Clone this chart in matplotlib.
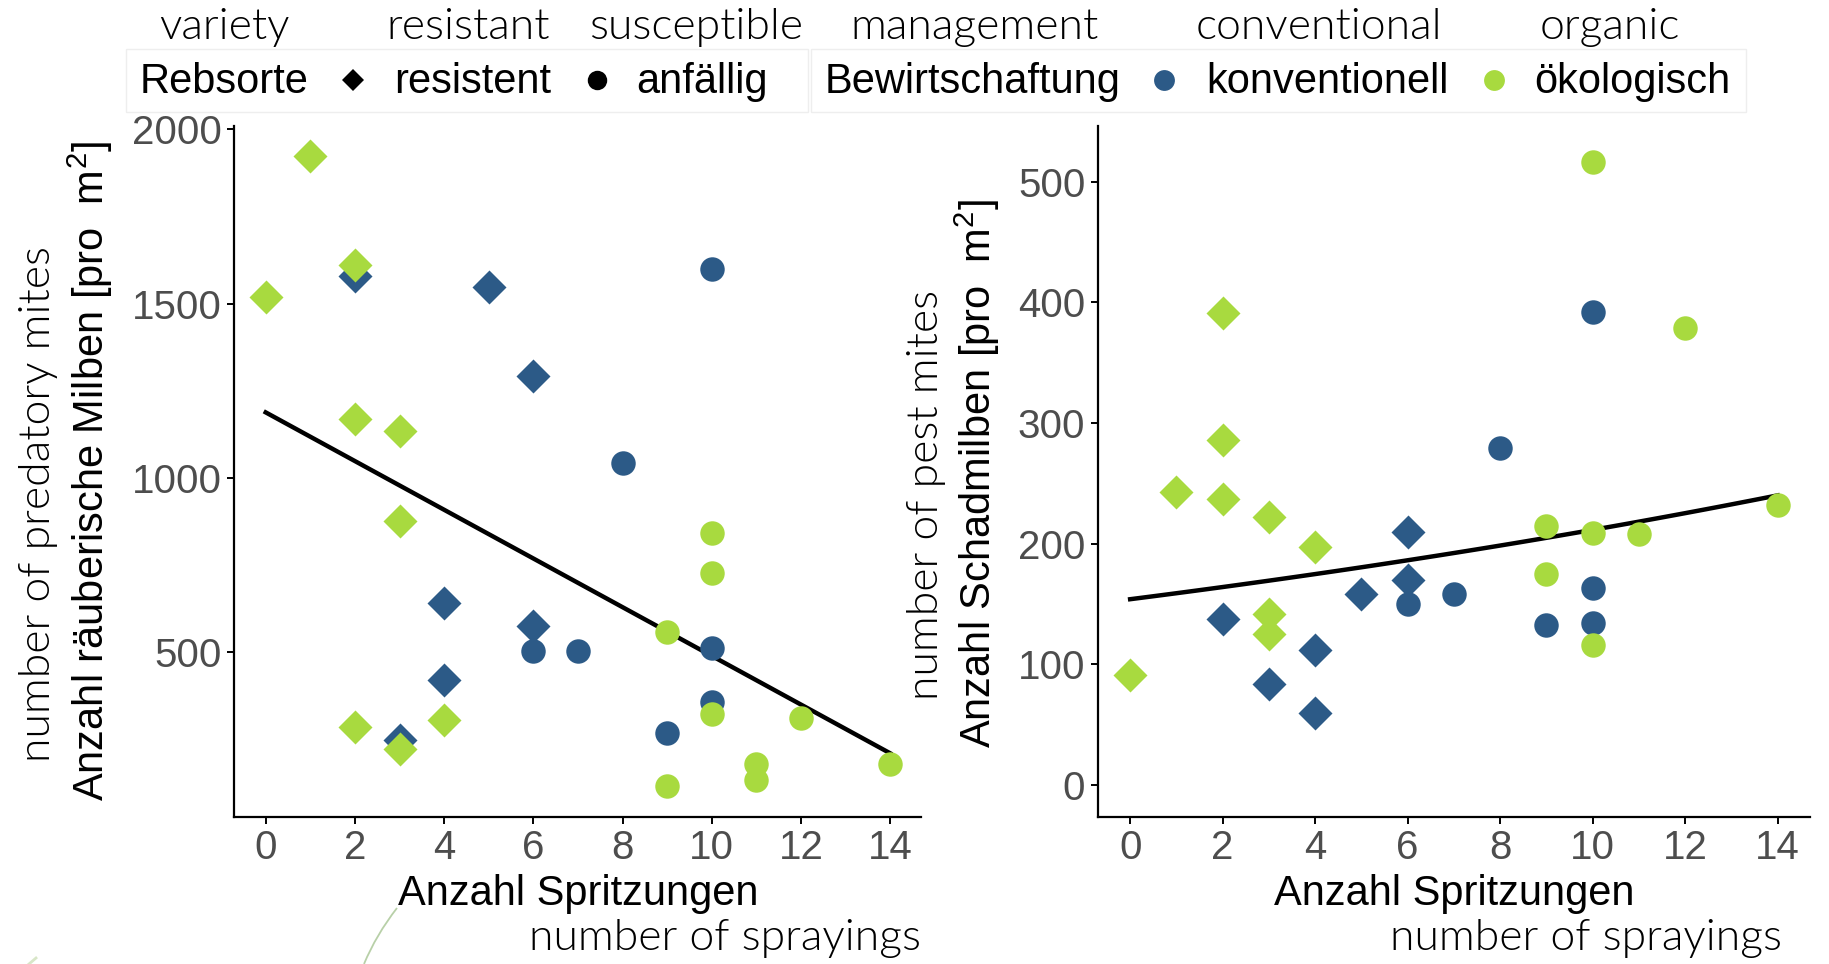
import numpy as np
import matplotlib
matplotlib.use("Agg")
import matplotlib.pyplot as plt
from matplotlib.lines import Line2D
from matplotlib.patches import Rectangle
from matplotlib.path import Path
from matplotlib.patches import PathPatch

plt.rcParams['font.family'] = ['Liberation Sans', 'DejaVu Sans']
plt.rcParams['mathtext.fontset'] = 'custom'
plt.rcParams['mathtext.rm'] = 'Liberation Sans'

BLUE = '#2C5A87'
GREEN = '#A8DA3F'
THIN = ['Lato', 'DejaVu Sans']
THIN_W = 300
THIN_SIZE = 32

# predatory mites (left panel)
pred_org_res_x = [0, 1, 2, 2, 3, 3, 2, 3, 4]
pred_org_res_y = [1520, 1925, 1610, 1170, 1135, 876, 286, 222, 306]
pred_con_res_x = [2, 5, 6, 4, 6, 4, 3]
pred_con_res_y = [1580, 1547, 1291, 641, 574, 420, 249]
pred_con_sus_x = [10, 8, 6, 7, 10, 10, 9]
pred_con_sus_y = [1600, 1044, 503, 503, 513, 356, 269]
pred_org_sus_x = [10, 10, 9, 10, 12, 11, 11, 9, 14]
pred_org_sus_y = [843, 728, 557, 322, 312, 178, 134, 117, 178]
pred_fit = (1188, -69.9)          # linear trend: intercept, slope

# pest mites (right panel)
pest_org_res_x = [0, 1, 2, 2, 2, 3, 3, 3, 4]
pest_org_res_y = [91, 243, 391, 286, 237, 222, 142, 125, 197]
pest_con_res_x = [2, 3, 4, 4, 5, 6, 6]
pest_con_res_y = [138, 84, 112, 60, 158, 210, 170]
pest_con_sus_x = [6, 7, 8, 9, 10, 10, 10]
pest_con_sus_y = [150, 158, 279, 133, 392, 163, 134]
pest_org_sus_x = [9, 9, 10, 10, 10, 11, 12, 14]
pest_org_sus_y = [215, 175, 516, 209, 116, 208, 379, 232]
pest_fit = (154, 0.0317)          # log-link trend: exp(a), b

x_ticks = [0, 2, 4, 6, 8, 10, 12, 14]
pred_yticks = [500, 1000, 1500, 2000]
pest_yticks = [0, 100, 200, 300, 400, 500]

fig = plt.figure(figsize=(18.29, 9.64), dpi=100, facecolor='white')
ax1 = fig.add_axes([0.1282, 0.153, 0.3756, 0.7163])
ax2 = fig.add_axes([0.6002, 0.153, 0.3894, 0.7163])

DS = 300   # diamond size
CS = 310   # circle size


def panel(ax, data, fit, yticks, ylim, kind):
    (orx, ory), (crx, cry), (csx, csy), (osx, osy) = data
    xs = np.linspace(0, 14, 100)
    if kind == 'lin':
        ax.plot(xs, fit[0] + fit[1] * xs, color='black', lw=3.2, zorder=2)
    else:
        ax.plot(xs, fit[0] * np.exp(fit[1] * xs), color='black', lw=3.2, zorder=2)
    ax.scatter(crx, cry, marker='D', s=DS, color=BLUE, linewidths=0, zorder=3)
    ax.scatter(orx, ory, marker='D', s=DS, color=GREEN, linewidths=0, zorder=3)
    ax.scatter(csx, csy, marker='o', s=CS, color=BLUE, linewidths=0, zorder=3)
    ax.scatter(osx, osy, marker='o', s=CS, color=GREEN, linewidths=0, zorder=3)
    ax.set_xlim(-0.7, 14.7)
    ax.set_ylim(*ylim)
    ax.set_xticks(x_ticks)
    ax.set_yticks(yticks)
    for s in ['top', 'right']:
        ax.spines[s].set_visible(False)
    for s in ['left', 'bottom']:
        ax.spines[s].set_linewidth(1.6)
    ax.tick_params(labelsize=29, labelcolor='#4D4D4D', length=5, width=1.4,
                   pad=4)


panel(ax1, [(pred_org_res_x, pred_org_res_y), (pred_con_res_x, pred_con_res_y),
            (pred_con_sus_x, pred_con_sus_y), (pred_org_sus_x, pred_org_sus_y)],
      pred_fit, pred_yticks, (28, 2010), 'lin')
panel(ax2, [(pest_org_res_x, pest_org_res_y), (pest_con_res_x, pest_con_res_y),
            (pest_con_sus_x, pest_con_sus_y), (pest_org_sus_x, pest_org_sus_y)],
      pest_fit, pest_yticks, (-26, 546), 'exp')

# axis titles
fig.text(0.0492, 0.5114, 'Anzahl räuberische Milben [pro  m$^2$]', rotation=90,
         ha='center', va='center', fontsize=30)
fig.text(0.021, 0.477, 'number of predatory mites', rotation=90, ha='center',
         va='center', fontsize=THIN_SIZE, family=THIN, fontweight=THIN_W)
fig.text(0.5344, 0.5087, 'Anzahl Schadmilben [pro  m$^2$]', rotation=90,
         ha='center', va='center', fontsize=30)
fig.text(0.5068, 0.4868, 'number of pest mites', rotation=90, ha='center',
         va='center', fontsize=THIN_SIZE, family=THIN, fontweight=THIN_W)
for xc, xr in [(0.3163, 0.5038), (0.7953, 0.9745)]:
    fig.text(xc, 0.0731, 'Anzahl Spritzungen', ha='center', va='center',
             fontsize=30)
    fig.text(xr, 0.026, 'number of sprayings', ha='right', va='center',
             fontsize=THIN_SIZE, family=THIN, fontweight=THIN_W)

# legend boxes
fig.add_artist(Rectangle((126 / 1829, 1 - 112 / 964), 682 / 1829, 63 / 964,
                         transform=fig.transFigure, fill=False,
                         edgecolor='#EEEEEE', lw=1))
fig.add_artist(Rectangle((811 / 1829, 1 - 112 / 964), 935 / 1829, 63 / 964,
                         transform=fig.transFigure, fill=False,
                         edgecolor='#EEEEEE', lw=1))

ROW = 0.915
fig.text(0.0765, ROW, 'Rebsorte', ha='left', va='center', fontsize=30)
fig.text(0.2156, ROW, 'resistent', ha='left', va='center', fontsize=30)
fig.text(0.348, ROW, 'anfällig', ha='left', va='center', fontsize=30)
fig.text(0.451, ROW, 'Bewirtschaftung', ha='left', va='center', fontsize=30)
fig.text(0.6595, ROW, 'konventionell', ha='left', va='center', fontsize=30)
fig.text(0.839, ROW, 'ökologisch', ha='left', va='center', fontsize=30)
for mx, mk, col, ms in [(0.193, 'D', 'black', 11.5), (0.3266, 'o', 'black', 14),
                        (0.6365, 'o', BLUE, 15), (0.817, 'o', GREEN, 15)]:
    fig.add_artist(Line2D([mx], [ROW + 0.002], transform=fig.transFigure,
                          marker=mk, color=col, markersize=ms, linestyle='none',
                          markeredgewidth=0))

TOP = 0.971
for xc, lab in [(0.1225, 'variety'), (0.256, 'resistant'), (0.3805, 'susceptible'),
                (0.533, 'management'), (0.721, 'conventional'), (0.880, 'organic')]:
    fig.text(xc, TOP, lab, ha='center', va='center', fontsize=THIN_SIZE,
             family=THIN, fontweight=THIN_W)

# faint stray marks at the bottom edge
arc = Path([(397 / 1829, 1 - 908 / 964), (376 / 1829, 1 - 935 / 964),
            (364 / 1829, 0.0)], [Path.MOVETO, Path.CURVE3, Path.CURVE3])
fig.add_artist(PathPatch(arc, transform=fig.transFigure, fill=False,
                         edgecolor='#B8D0A8', lw=1.3))
fig.add_artist(Line2D([36 / 1829, 29 / 1829], [1 - 958 / 964, 1 - 964 / 964],
                      transform=fig.transFigure, color='#D8E6C8', lw=2))

fig.savefig('out.png', dpi=100, facecolor='white')
